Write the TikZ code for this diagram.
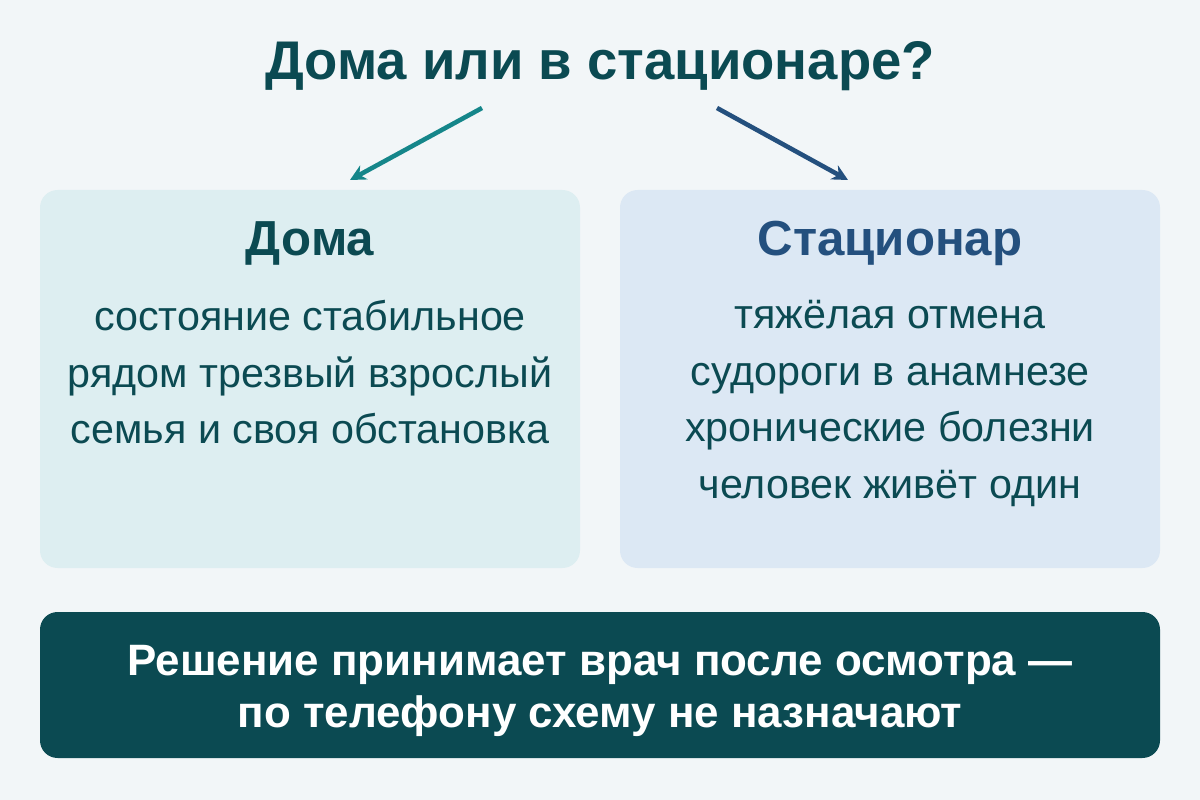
\documentclass[tikz,border=0pt]{standalone}
\usepackage{fontspec}
\setmainfont{Liberation Sans}
\usetikzlibrary{positioning, arrows.meta}
\definecolor{bgcol}{HTML}{F2F6F8}
\definecolor{homefill}{HTML}{DDEEF1}
\definecolor{hospfill}{HTML}{DCE8F4}
\definecolor{darkteal}{HTML}{0B4A52}
\definecolor{hometeal}{HTML}{15868A}
\definecolor{hospblue}{HTML}{24507E}
\tikzset{
  box/.style = {rounded corners = 10pt, draw = none},
  body/.style = {align = center, font = \fontsize{23.5}{32.3}\selectfont},
  arr/.style = {line width = 2.6pt, -{Stealth[length = 9pt, width = 9pt]}}
}
\begin{document}
\begin{tikzpicture}[x = .02cm, y = -.02cm]
    \fill [bgcol] (0,0) rectangle (1200,800);
    \node (title) [text = darkteal, font = \fontsize{31}{31}\selectfont\bfseries]
      at (600,66) {Дома или в стационаре?};
    \fill [box, homefill] (40,190) rectangle (580,568);
    \fill [box, hospfill] (620,190) rectangle (1160,568);
    \fill [box, darkteal] (40,612) rectangle (1160,758);
    \coordinate (ls) at (482,108); \coordinate (le) at (350,180);
    \coordinate (rs) at (717,108); \coordinate (re) at (848,180);
    \draw [arr, hometeal] (ls) -- (le);
    \draw [arr, hospblue] (rs) -- (re);
    \node (home) [text = darkteal, font = \fontsize{28}{28}\selectfont\bfseries]
      at (310,243) {Дома};
    \node (hosp) [text = hospblue, font = \fontsize{28}{28}\selectfont\bfseries]
      at (890,243) {Стационар};
    \node (homelist) [body, text = darkteal, anchor = north]
      at (310,294) {состояние стабильное\\рядом трезвый взрослый\\семья и своя обстановка};
    \node (hosplist) [body, text = darkteal, anchor = north]
      at (890,294) {тяжёлая отмена\\судороги в анамнезе\\хронические болезни\\человек живёт один};
    \node (note) [text = white, align = center, font = \fontsize{25}{30}\selectfont\bfseries]
      at (600,691) {Решение принимает врач после осмотра —\\по телефону схему не назначают};
  \end{tikzpicture}
\end{document}
